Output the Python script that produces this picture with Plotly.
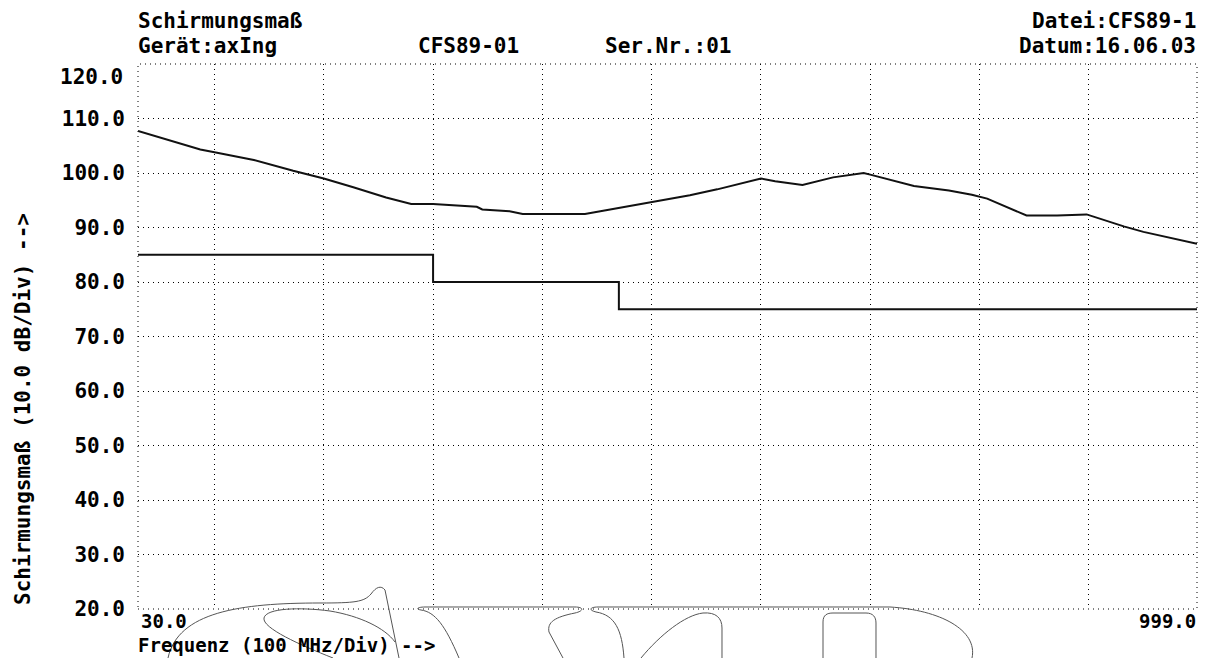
import re
import plotly.graph_objects as go

# ---- data ----
freq_meas = [30, 53, 87, 100, 136, 172, 200, 227, 257, 280, 300, 340, 345, 370, 382, 439, 471,
             500, 535, 560, 600, 613, 638, 666, 694, 700, 740, 772, 793, 807, 843, 871, 898,
             932, 950, 999]
db_meas = [107.7, 106.3, 104.3, 103.8, 102.4, 100.4, 99.0, 97.4, 95.5, 94.3, 94.3, 93.8, 93.3,
           93.0, 92.5, 92.5, 93.6, 94.7, 95.9, 97.0, 99.0, 98.5, 97.8, 99.2, 100.0, 99.7, 97.6,
           96.8, 96.0, 95.3, 92.2, 92.2, 92.4, 90.2, 89.2, 87.0]
freq_limit = [30, 300, 470, 999]
db_limit = [85, 80, 75, 75]
x_grid = [100, 200, 300, 400, 500, 600, 700, 800, 900]
y_ticks = [20, 30, 40, 50, 60, 70, 80, 90, 100, 110]
y_tick_text = ["%.1f" % v for v in y_ticks]
x_min, x_max = 30, 999
y_min, y_max = 20, 120

FONT = "DejaVu Sans Mono"
FS = 21
FS_BOTTOM = 19

# page offset (browser body margin) and plot area in screen pixels
OFF = 8
L, R, T, B = 138, 1197, 64, 609
W, H = R - L, B - T
FIG_W, FIG_H = 1207 - OFF, 658 - OFF


def px(x):
    return (x - L) / W


def py(y):
    return (B - y) / H


def path_px(s):
    def conv(m):
        x, y = float(m.group(1)), float(m.group(2))
        return "%.5f,%.5f" % (px(x), py(y))
    return re.sub(r"(-?[\d.]+),(-?[\d.]+)", conv, s)


fig = go.Figure()
fig.add_trace(go.Scatter(x=freq_meas, y=db_meas, mode="lines",
                         line=dict(color="#111111", width=2), showlegend=False))
fig.add_trace(go.Scatter(x=freq_limit, y=db_limit, mode="lines", line_shape="hv",
                         line=dict(color="#111111", width=2), showlegend=False))

dot = "1px,4px"
fig.update_layout(
    width=FIG_W, height=FIG_H,
    margin=dict(l=L - OFF, r=1207 - R, t=T - OFF, b=658 - B),
    paper_bgcolor="white", plot_bgcolor="white",
    font=dict(family=FONT, size=FS, color="black", weight="bold"),
    xaxis=dict(range=[x_min, x_max], tickvals=x_grid, showticklabels=False,
               showgrid=True, gridcolor="black", gridwidth=1, griddash=dot,
               zeroline=False, showline=False, ticks=""),
    yaxis=dict(range=[y_min, y_max], tickvals=y_ticks, ticktext=y_tick_text,
               showgrid=True, gridcolor="black", gridwidth=1, griddash=dot,
               zeroline=False, showline=False, ticks="", ticklabelstandoff=12,
               tickfont=dict(family=FONT, size=FS, color="black", weight="bold")),
)

# dotted frame
fig.add_shape(type="rect", xref="paper", yref="paper", x0=0, y0=0, x1=1, y1=1,
              line=dict(color="black", width=1, dash=dot), layer="below")

# logo outline (decoration)
logo_paths = [
    "M 168,658 C 178,612 240,603 320,603 C 355,603 364,602 371,594 C 376,587 381,585 385,590 L 399,658",
    "M 333,658 C 300,645 262,628 264,618 C 266,608 300,607 330,611 C 360,616 385,628 395,642",
    "M 459,658 C 445,625 435,612 421,610 C 415,609 418,607 425,607 L 575,607 C 584,607 584,611 575,613 C 555,617 547,622 549,632 L 563,658",
    "M 624,658 C 622,630 615,615 596,612 C 588,610 590,607 598,607 L 890,607 C 940,610 978,630 972,658",
    "M 641,658 C 660,635 685,615 703,613 C 716,612 722,618 722,628 L 722,658",
    "M 823,658 L 823,622 C 823,615 827,613 833,613 L 866,613 C 873,613 876,617 876,623 L 876,658",
]
for p in logo_paths:
    fig.add_shape(type="path", xref="paper", yref="paper", path=path_px(p),
                  line=dict(color="#555555", width=1))


def txt(text, x, y, xanchor="left", angle=0, yanchor="middle", size=FS):
    fig.add_annotation(text=text, x=x, y=y, xref="paper", yref="paper", showarrow=False,
                       xanchor=xanchor, yanchor=yanchor, textangle=angle, borderpad=0,
                       font=dict(family=FONT, size=size, color="black", weight="bold"))


# header
txt("Schirmungsmaß", px(137), py(21))
txt("Gerät:axIng", px(137), py(46))
txt("CFS89-01", px(417), py(46))
txt("Ser.Nr.:01", px(604), py(46))
txt("Datei:CFS89-1", px(1197), py(21), xanchor="right")
txt("Datum:16.06.03", px(1197), py(46), xanchor="right")

# 120 label (drawn slightly below the top line like the original)
fig.add_annotation(text="%.1f" % y_max, x=0, xref="paper", y=y_max, yref="y",
                   xanchor="right", yanchor="middle", xshift=-14, yshift=-13,
                   showarrow=False, borderpad=0,
                   font=dict(family=FONT, size=FS, color="black", weight="bold"))

# x labels
fig.add_annotation(text="%.1f" % x_min, x=x_min, xref="x", y=py(621), yref="paper",
                   xanchor="left", yanchor="middle", xshift=2, showarrow=False, borderpad=0,
                   font=dict(family=FONT, size=FS_BOTTOM, color="black", weight="bold"))
fig.add_annotation(text="%.1f" % x_max, x=x_max, xref="x", y=py(621), yref="paper",
                   xanchor="right", yanchor="middle", showarrow=False, borderpad=0,
                   font=dict(family=FONT, size=FS_BOTTOM, color="black", weight="bold"))
txt("Frequenz (100 MHz/Div) -->", px(137), py(645), size=FS_BOTTOM)

# y title
txt("Schirmungsmaß (10.0 dB/Div) -->", px(23), py(606), xanchor="center",
    angle=-90, yanchor="bottom")

fig.write_html("out.html")
